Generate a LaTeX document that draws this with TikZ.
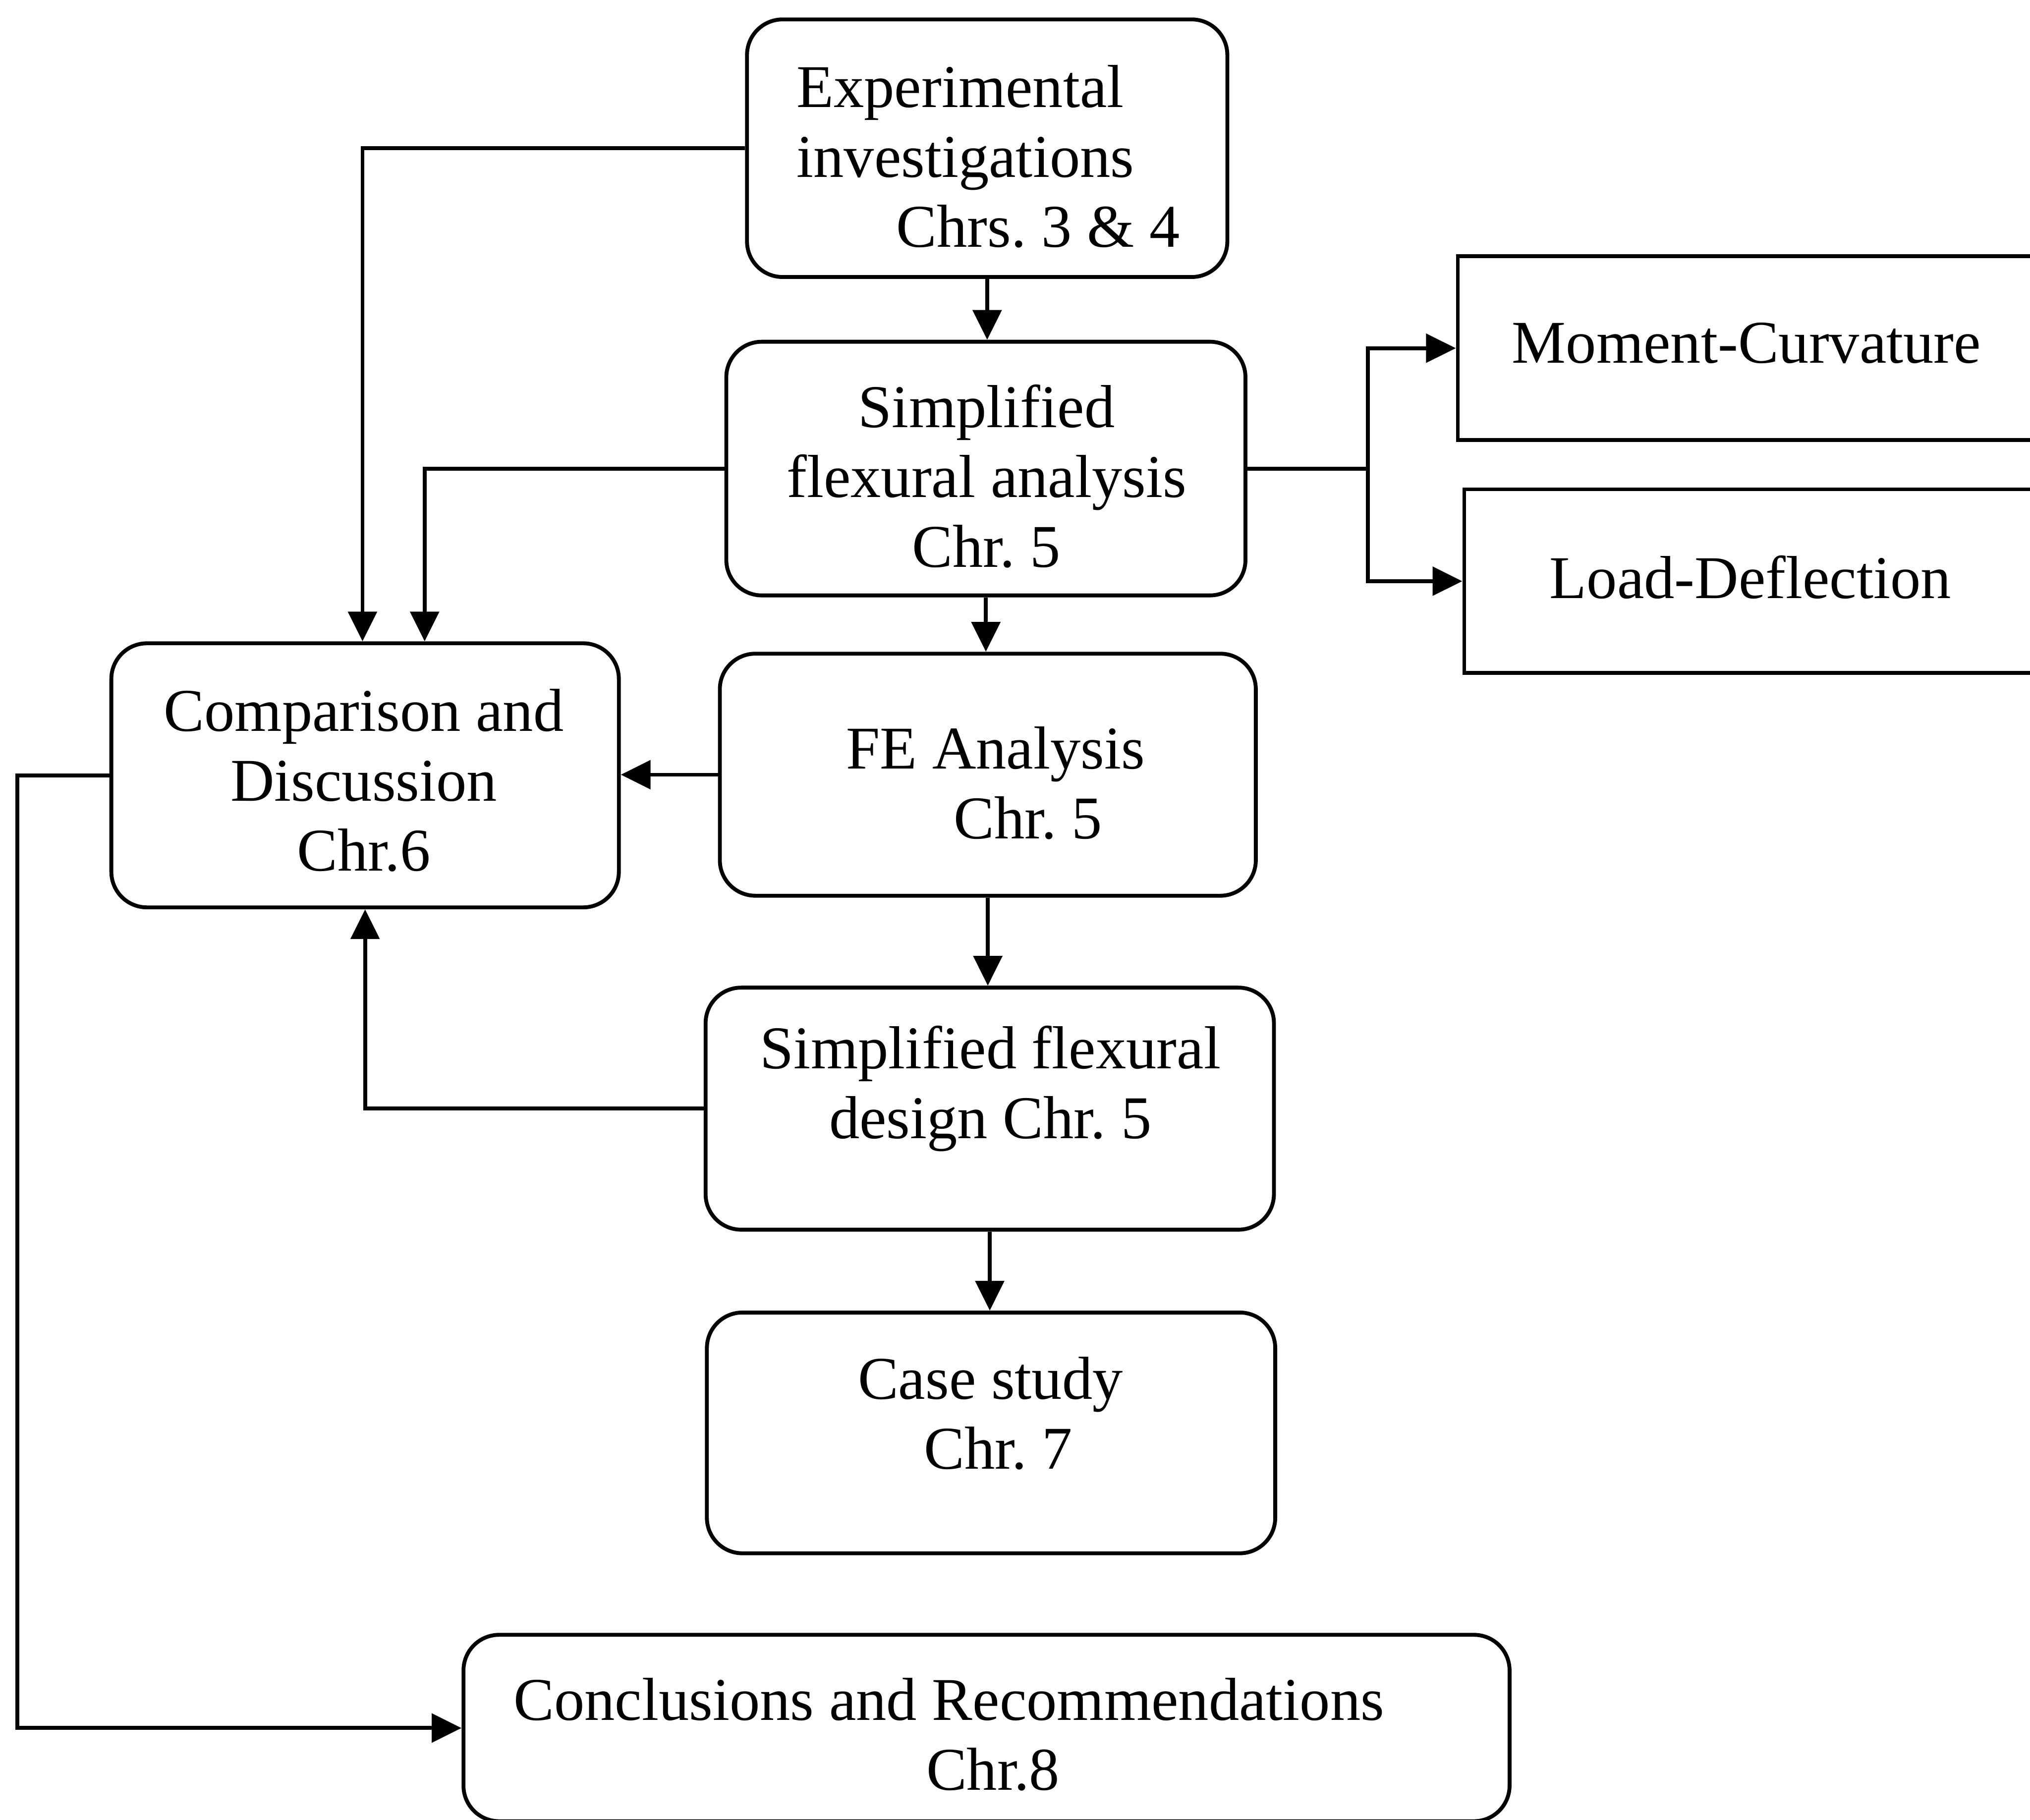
\documentclass[tikz,border=0pt]{standalone}
\usepackage{fontspec}
\setmainfont{Liberation Serif}
\usetikzlibrary{arrows.meta,fit,calc}
\frenchspacing
\begin{document}
\begin{tikzpicture}[x=0.02cm,y=-0.02cm,
  box/.style={draw, line width=0.06cm, rounded corners=0.55cm, inner sep=0pt},
  sqbox/.style={draw, line width=0.06cm, inner sep=0pt},
  txt/.style={inner sep=0pt, font=\fontsize{26.7pt}{30.7pt}\selectfont},
  arr/.style={line width=0.06cm, -{Triangle[length=0.46cm,width=0.44cm]}},
  ln/.style={line width=0.06cm}]
\useasboundingbox (0,0) rectangle (1568,1406);
\clip (0,0) rectangle (1568,1406);
% boxes
\node[box, fit={(577,15) (948,214)}] (exp) {};
\node[box, fit={(561,264) (962,460)}] (simp) {};
\node[box, fit={(556,505) (970,692)}] (fe) {};
\node[box, fit={(86,497) (478,701)}] (comp) {};
\node[box, fit={(545,763) (984,950)}] (des) {};
\node[box, fit={(546,1014) (985,1200)}] (case) {};
\node[box, fit={(358,1263) (1166,1407)}] (concl) {};
\node[sqbox, fit={(1126,198) (1570,340)}] (mc) {};
\node[sqbox, fit={(1131,378) (1573,520)}] (ld) {};
% texts
\node[txt, align=left, anchor=west] (exptxt) at (615,121) {Experimental\\investigations\\\hspace*{1.54cm}Chrs. 3 \& 4};
\node[txt, align=center] (simptxt) at (762,368) {Simplified\\flexural analysis\\Chr. 5};
\node[txt, align=center] (fetxt) at (769,605) {FE Analysis\\\hspace*{1cm}Chr. 5};
\node[txt, align=center] (comptxt) at (281,603) {Comparison and\\Discussion\\Chr.6};
\node[txt, align=center] (destxt) at (765,841) {Simplified flexural\\design Chr. 5};
\node[txt, align=center] (casetxt) at (765,1092) {Case study\\\hspace*{0.24cm}Chr. 7};
\node[txt, align=center] (concltxt) at (733,1340) {Conclusions and Recommendations\\\hspace*{1.36cm}Chr.8};
\node[txt] (mctxt) at (1349,265) {Moment-Curvature};
\node[txt] (ldtxt) at (1352,446) {Load-Deflection};
% connectors
\draw[arr] (exp.south) -- (exp.south |- simp.north);
\draw[arr] (simp.south) -- (simp.south |- fe.north);
\draw[arr] (fe.south) -- (fe.south |- des.north);
\draw[arr] (des.south) -- (des.south |- case.north);
\draw[arr] (exp.west) -| ($(comp.north)+(-2,0)$);
\draw[arr] (simp.west) -| ($(comp.north)+(46,0)$);
\draw[arr] (fe.west) -- (fe.west -| comp.east);
\draw[arr] (des.west) -| (comp.south);
\draw[arr] (comp.west) -- ++(-71,0) |- (concl.west);
\coordinate (br) at ($(simp.east)+(93,0)$);
\draw[ln] (simp.east) -- (br);
\draw[arr] (br) |- (mc.west);
\draw[arr] (br) |- (ld.west);
\end{tikzpicture}
\end{document}
